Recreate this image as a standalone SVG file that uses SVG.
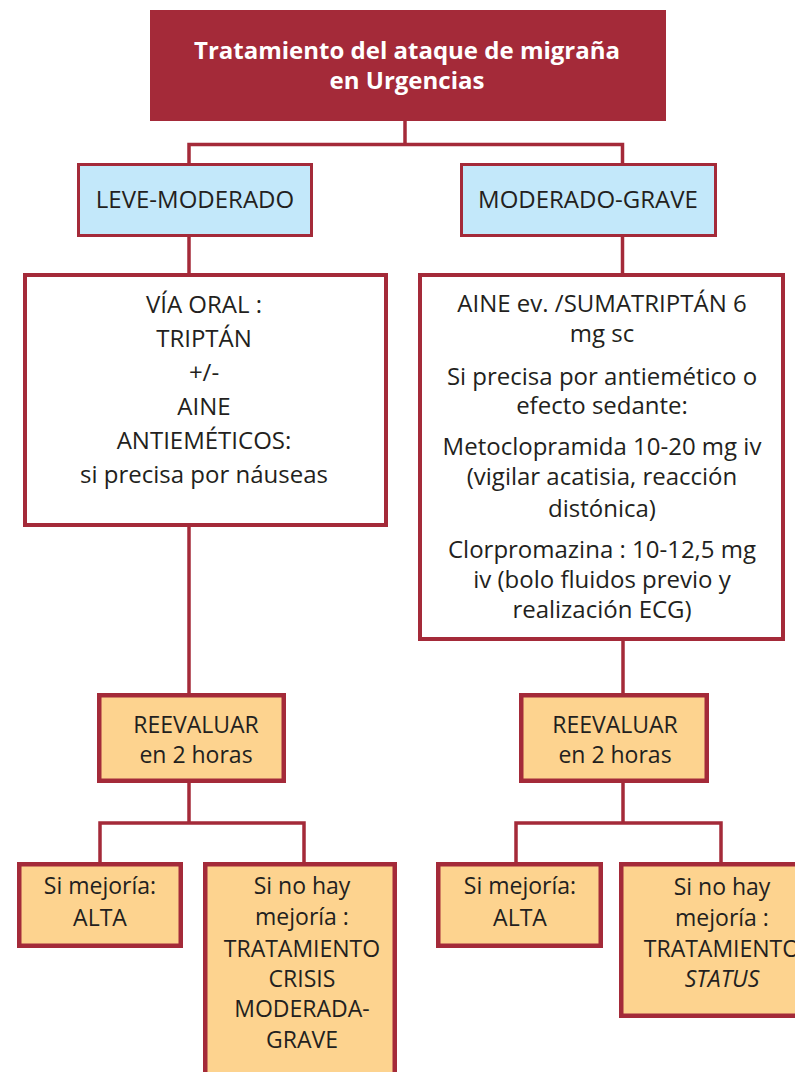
<svg xmlns="http://www.w3.org/2000/svg" width="795" height="1072" viewBox="0 0 795 1072">
<style>
  .t{font-family:"Open Sans","Noto Sans","Liberation Sans",sans-serif;font-size:24px;fill:#231F20;text-anchor:middle}
  .s{font-size:23px}
  .title{font-family:"Open Sans","Noto Sans","Liberation Sans",sans-serif;font-size:24px;font-weight:bold;fill:#FFFFFF;text-anchor:middle}
  .blue{fill:#C3E8FA;stroke:#A42A39;stroke-width:3}
  .white{fill:#FFFFFF;stroke:#A42A39;stroke-width:4}
  .orange{fill:#FDD38F;stroke:#A42A39;stroke-width:4.5}
  .conn{fill:none;stroke:#A42A39;stroke-width:3.5}
</style>
<rect width="795" height="1072" fill="#FFFFFF"/>
<g id="connectors" class="conn">
  <path d="M405 121 V144.5"/>
  <path d="M189 163 V144.5 H622.5 V163"/>
  <path d="M189 237 V273"/>
  <path d="M622.5 237 V273"/>
  <path d="M189 527 V693"/>
  <path d="M623 641 V693"/>
  <path d="M189 783 V823"/>
  <path d="M100 862 V823 H304 V862"/>
  <path d="M623 783 V823"/>
  <path d="M516 862 V823 H721 V862"/>
</g>
<g id="title">
  <rect x="150" y="10" width="516" height="111" fill="#A42A39"/>
  <text class="title" x="407" y="59">Tratamiento del ataque de migraña</text>
  <text class="title" x="407" y="89">en Urgencias</text>
</g>
<g id="leve-moderado">
  <rect class="blue" x="78.5" y="164.5" width="233" height="71"/>
  <text class="t" x="195" y="208">LEVE-MODERADO</text>
</g>
<g id="moderado-grave">
  <rect class="blue" x="461.5" y="164.5" width="254" height="71"/>
  <text class="t" x="588" y="208">MODERADO-GRAVE</text>
</g>
<g id="via-oral">
  <rect class="white" x="25" y="275" width="361" height="250"/>
  <text class="t" x="204" y="313">VÍA ORAL :</text>
  <text class="t" x="204" y="347">TRIPTÁN</text>
  <text class="t" x="204" y="381">+/-</text>
  <text class="t" x="204" y="415">AINE</text>
  <text class="t" x="204" y="449">ANTIEMÉTICOS:</text>
  <text class="t" x="204" y="483">si precisa por náuseas</text>
</g>
<g id="aine-ev">
  <rect class="white" x="420" y="275" width="363" height="364"/>
  <text class="t" x="602" y="312">AINE ev. /SUMATRIPTÁN 6</text>
  <text class="t" x="602" y="342">mg sc</text>
  <text class="t" x="602" y="385">Si precisa por antiemético o</text>
  <text class="t" x="602" y="414">efecto sedante:</text>
  <text class="t" x="602" y="455">Metoclopramida 10-20 mg iv</text>
  <text class="t" x="602" y="485">(vigilar acatisia, reacción</text>
  <text class="t" x="602" y="517">distónica)</text>
  <text class="t" x="602" y="558">Clorpromazina : 10-12,5 mg</text>
  <text class="t" x="602" y="588">iv (bolo fluidos previo y</text>
  <text class="t" x="602" y="618">realización ECG)</text>
</g>
<g id="reevaluar-left">
  <rect class="orange" x="99.25" y="695.25" width="184.5" height="85.5"/>
  <text class="t s" x="196" y="733">REEVALUAR</text>
  <text class="t s" x="196" y="763">en 2 horas</text>
</g>
<g id="reevaluar-right">
  <rect class="orange" x="521.25" y="695.25" width="185.5" height="85.5"/>
  <text class="t s" x="615" y="733">REEVALUAR</text>
  <text class="t s" x="615" y="763">en 2 horas</text>
</g>
<g id="alta-left">
  <rect class="orange" x="19.25" y="864.25" width="161.5" height="81.5"/>
  <text class="t s" x="100" y="894">Si mejoría:</text>
  <text class="t s" x="100" y="926">ALTA</text>
</g>
<g id="no-mejoria-left">
  <rect class="orange" x="205.25" y="864.25" width="189.5" height="250"/>
  <text class="t s" x="302" y="894">Si no hay</text>
  <text class="t s" x="302" y="925">mejoría :</text>
  <text class="t s" x="302" y="957">TRATAMIENTO</text>
  <text class="t s" x="302" y="987">CRISIS</text>
  <text class="t s" x="302" y="1017">MODERADA-</text>
  <text class="t s" x="302" y="1048">GRAVE</text>
</g>
<g id="alta-right">
  <rect class="orange" x="438.25" y="864.25" width="162.5" height="81.5"/>
  <text class="t s" x="520" y="894">Si mejoría:</text>
  <text class="t s" x="520" y="926">ALTA</text>
</g>
<g id="no-mejoria-right">
  <rect class="orange" x="621.25" y="864.25" width="250" height="151.5"/>
  <text class="t s" x="722" y="895">Si no hay</text>
  <text class="t s" x="722" y="926">mejoría :</text>
  <text class="t s" x="722" y="957">TRATAMIENTO</text>
  <text class="t s" x="722" y="987" font-style="italic">STATUS</text>
</g>
</svg>
